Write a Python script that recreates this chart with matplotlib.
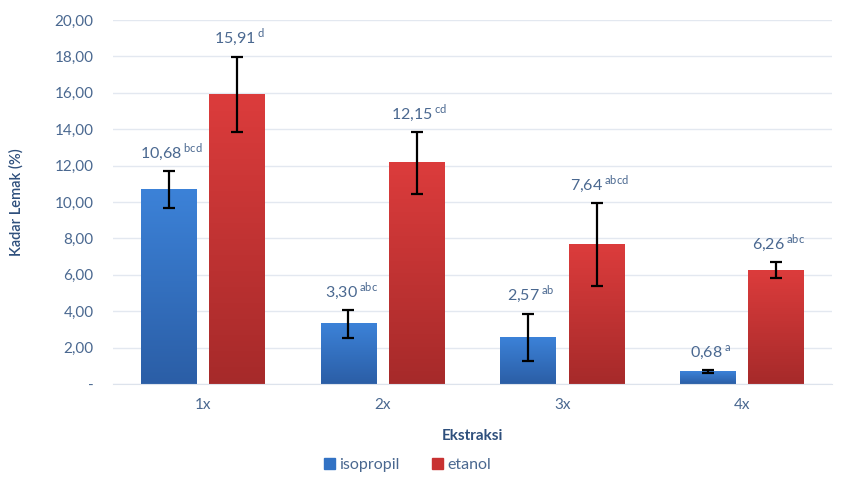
import numpy as np
import matplotlib
matplotlib.use("Agg")
import matplotlib.pyplot as plt
from matplotlib.colors import LinearSegmentedColormap
from matplotlib.patches import Patch

plt.rcParams['font.family'] = ['Lato', 'DejaVu Sans']
plt.rcParams['mathtext.fontset'] = 'custom'
plt.rcParams['mathtext.rm'] = 'Lato'

# data
categories = ["1x", "2x", "3x", "4x"]
isopropil = [10.68, 3.30, 2.57, 0.68]
etanol = [15.91, 12.15, 7.64, 6.26]
isopropil_err = [1.00, 0.75, 1.30, 0.10]
etanol_err = [2.08, 1.70, 2.28, 0.45]
isopropil_sig = ["bcd", "abc", "ab", "a"]
etanol_sig = ["d", "cd", "abcd", "abc"]
yticks = [0, 2, 4, 6, 8, 10, 12, 14, 16, 18, 20]
ytick_labels = ["-", "2,00", "4,00", "6,00", "8,00", "10,00", "12,00",
                "14,00", "16,00", "18,00", "20,00"]

txt_col = "#4a6890"
title_col = "#2e4f7c"

fig = plt.figure(figsize=(8.58, 4.92), dpi=100)
ax = fig.add_axes([0.1317, 0.2195, 0.838, 0.7398])

x = np.arange(len(categories))
w = 0.31
off = 0.19

blue_cmap = LinearSegmentedColormap.from_list("b", ["#2b5ea6", "#3c82d8"])
red_cmap = LinearSegmentedColormap.from_list("r", ["#a62a2a", "#dc3c3c"])


def gradient_bars(xs, vals, cmap, color):
    # plain bars for the layout, then a vertical gradient image on top of each
    bars = ax.bar(xs, vals, w, color=color, zorder=2)
    for b in bars:
        x0, y0 = b.get_x(), b.get_y()
        x1, y1 = x0 + b.get_width(), y0 + b.get_height()
        b.set_alpha(0)
        grad = np.linspace(0, 1, 256).reshape(-1, 1)
        ax.imshow(grad, extent=[x0, x1, y0, y1], origin="lower", cmap=cmap,
                  aspect="auto", zorder=2)
    return bars


gradient_bars(x - off, isopropil, blue_cmap, "#3272c4")
gradient_bars(x + off, etanol, red_cmap, "#c83232")

ax.errorbar(x - off, isopropil, yerr=isopropil_err, fmt="none", ecolor="black",
            elinewidth=1.6, capsize=4, capthick=1.6, zorder=3)
ax.errorbar(x + off, etanol, yerr=etanol_err, fmt="none", ecolor="black",
            elinewidth=1.6, capsize=4, capthick=1.6, zorder=3)

# value labels with significance letters
for xs, vals, errs, sigs in [(x - off, isopropil, isopropil_err, isopropil_sig),
                             (x + off, etanol, etanol_err, etanol_sig)]:
    for xi, v, e, s in zip(xs, vals, errs, sigs):
        lab = f"{v:.2f}".replace(".", ",") + r"$\,^{\mathrm{" + s + "}}$"
        ax.annotate(lab, (xi, v + e), xytext=(2, 6), textcoords="offset points",
                    ha="center", va="bottom", fontsize=11.5, color=txt_col)

ax.set_xlim(-0.5, 3.5)
ax.set_ylim(0, 20)
ax.set_xticks(x)
ax.set_xticklabels(categories, fontsize=11, color=txt_col)
ax.set_yticks(yticks)
ax.set_yticklabels(ytick_labels, fontsize=11, color=txt_col)
ax.tick_params(length=0, pad=14)
ax.tick_params(axis="x", pad=10)
ax.grid(axis="y", color="#e3e8f0", linewidth=1, zorder=0)
ax.set_axisbelow(True)
for s in ["top", "right", "left"]:
    ax.spines[s].set_visible(False)
ax.spines["bottom"].set_color("#dde3ec")

ax.set_xlabel("Ekstraksi", fontsize=11, fontweight="bold", color=title_col, labelpad=12)
ax.set_ylabel("Kadar Lemak (%)", fontsize=10.5, fontweight="semibold",
              color=title_col, labelpad=22)

handles = [Patch(color="#3272c4", label="isopropil"), Patch(color="#c83232", label="etanol")]
fig.legend(handles=handles, loc="center", bbox_to_anchor=(0.475, 0.055), ncol=2,
           frameon=False, fontsize=11.5, handlelength=0.7, handleheight=0.7,
           handletextpad=0.3, columnspacing=2.0, labelcolor=txt_col)

plt.savefig("out.png", dpi=100)
